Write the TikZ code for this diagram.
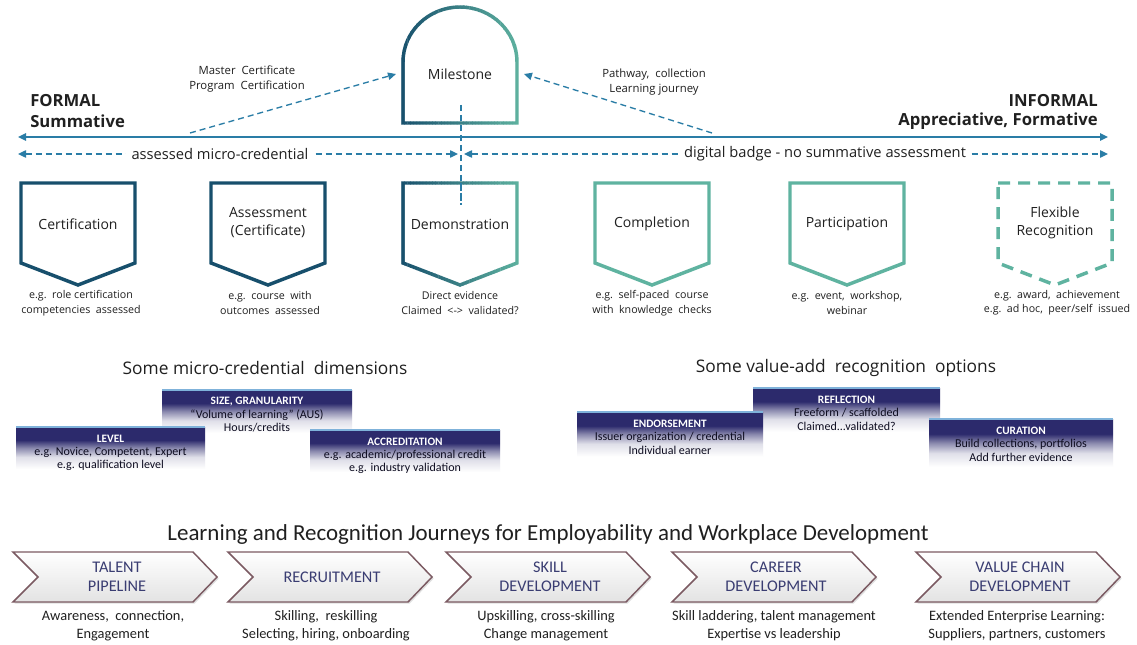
\documentclass[tikz,border=0pt]{standalone}
\usepackage{fontspec}
\setmainfont{Open Sans}
\newfontfamily\calib{Carlito}
\usetikzlibrary{arrows.meta,shadows}
\definecolor{dteal}{HTML}{174F6C}
\definecolor{lteal}{HTML}{5FB3A0}
\definecolor{axisblue}{HTML}{2A7DA6}
\definecolor{navy}{HTML}{2C2A6C}
\definecolor{chevb}{HTML}{7B5A62}
\definecolor{chevt}{HTML}{3A3D72}
\definecolor{txt}{HTML}{202020}
\definecolor{edgeblue}{HTML}{7FB2DA}
\pgfdeclareverticalshading{navyfade}{100bp}{color(0bp)=(white); color(33bp)=(white); color(45bp)=(navy!15); color(54bp)=(navy!55); color(62bp)=(navy); color(100bp)=(navy)}
% gradient stroke: #1 xmin, #2 xmax, #3 path
\newcommand\gradstroke[3]{%
  \foreach \i in {0,...,39}{%
    \pgfmathsetmacro\xa{#1+(#2-#1)*\i/40}%
    \pgfmathsetmacro\xb{#1+(#2-#1)*(\i+1)/40+0.4}%
    \pgfmathtruncatemacro\pc{100*\i/39}%
    \begin{scope}
      \clip (\xa,-5) rectangle (\xb,700);
      \draw[line width=2.6pt, draw=lteal!\pc!dteal, line join=miter] #3;
    \end{scope}
  }}
\newcommand\badgeshape[2]{\draw[#1] ({#2-57},183) -- ({#2+57},183) -- ({#2+57},263) -- (#2,285) -- ({#2-57},263) -- cycle;}
\newcommand\chevron[2]{% #1 left x, #2 name
  \draw[chev] (#1,552) -- ({#1+180},552) -- ({#1+204},577) -- ({#1+180},602) -- (#1,602) -- ({#1+25},577) -- cycle;
  \coordinate (#2) at ({#1+104},577);}
\newcommand\dimbox[8]{% name, x1, y1, x2, y2, title, line1, line2
  \shade[shading=navyfade] (#2,#3) rectangle (#4,#5);
  \draw[edgeblue, line width=0.8pt] (#2,#3) -- (#4,#3);
  \node[btitle] (#1) at ({(#2+#4)/2},{#3+12}) {#6};
  \node[bline] (#1a) at ({(#2+#4)/2},{#3+25}) {#7};
  \node[bline] (#1b) at ({(#2+#4)/2},{#3+38}) {#8};}
\begin{document}
\begin{tikzpicture}[x=0.75pt,y=-0.75pt,
  lbl/.style={font=\fontsize{10.5}{13.5}\selectfont, text=txt, align=center, inner sep=1pt},
  sub/.style={font=\fontsize{8}{10.8}\selectfont, text=txt, align=center, inner sep=1pt},
  dsub/.style={font=\fontsize{8.5}{10.8}\selectfont, text=txt, align=center, inner sep=1pt},
  side/.style={font=\bfseries\fontsize{12.5}{15.5}\selectfont, text=txt, inner sep=0pt},
  head/.style={font=\fontsize{13}{15}\selectfont, text=txt},
  axisline/.style={axisblue, line width=1.2pt, {Triangle[length=6pt,width=5.5pt]}-{Triangle[length=6pt,width=5.5pt]}},
  dashline/.style={axisblue, line width=1pt, dash pattern=on 4.5pt off 3pt},
  dlabel/.style={font=\fontsize{11}{13}\selectfont, text=txt, fill=white, inner xsep=4pt, inner ysep=1pt},
  badge/.style={line width=2.6pt, line join=miter},
  btitle/.style={font=\calib\bfseries\fontsize{8.5}{10}\selectfont, text=white, inner sep=0pt},
  bline/.style={font=\calib\fontsize{9}{10.5}\selectfont, text=navy!30!black, inner sep=0pt},
  chev/.style={draw=chevb, line width=1.1pt, top color=white, bottom color=gray!22, line join=miter,
    drop shadow={shadow xshift=1.2pt, shadow yshift=-1.2pt, opacity=0.25}},
  chlabel/.style={font=\calib\fontsize{12.2}{14}\selectfont, text=chevt, align=center},
  chsub/.style={font=\calib\fontsize{10.8}{13.5}\selectfont, text=txt, align=center}
]
\useasboundingbox (0,0) rectangle (1137,645);
\fill[white] (0,0) rectangle (1137,645);

% ---- Milestone
\gradstroke{398}{522}{(403,123) -- (403,62) arc[start angle=180,end angle=360,x radius=57,y radius=55] -- (517,123) -- cycle}
\node[lbl] (ms) at (460,74) {Milestone};
\coordinate (msL) at (396,74);
\coordinate (msR) at (524,74);

% ---- axis lines
\coordinate (axL) at (18,137);
\coordinate (axR) at (1108,137);
\draw[axisline] (axL) -- (axR);
\coordinate (dL) at (18,154);
\coordinate (dM1) at (458,154);
\coordinate (dM2) at (464,154);
\coordinate (dR) at (1108,154);
\draw[dashline, {Triangle[length=6pt,width=5.5pt]}-{Triangle[length=6pt,width=5.5pt]}] (dL) -- (dM1);
\draw[dashline, {Triangle[length=6pt,width=5.5pt]}-{Triangle[length=6pt,width=5.5pt]}] (dM2) -- (dR);
\node[dlabel] (amc) at (220,154) {assessed micro-credential};
\node[dlabel] (dbn) at (825,154) {digital badge - no summative assessment};
\coordinate (vT) at (461,105);
\coordinate (vB) at (461,205);
\draw[dashline] (vT) -- (vB);

% ---- diagonal arrows
\coordinate (mcS) at (190,133);
\coordinate (pwS) at (712,133);
\draw[dashline, -{Triangle[length=6pt,width=5.5pt]}] (mcS) -- (msL);
\draw[dashline, -{Triangle[length=6pt,width=5.5pt]}] (pwS) -- (msR);
\node[dsub] (mc) at (247,79) {Master\ \ Certificate\\Program\ \ Certification};
\node[dsub] (pw) at (654,82) {Pathway,\ \ collection\\Learning journey};

% ---- side labels
\node[side, anchor=west] (formal) at (30,101) {FORMAL};
\node[side, anchor=west] (summ) at (30,121) {Summative};
\node[side, anchor=east] (informal) at (1098,101) {INFORMAL};
\node[side, anchor=east] (appr) at (1098,121) {Appreciative, Formative};

% ---- badges
\badgeshape{badge, dteal}{78}
\badgeshape{badge, dteal}{268}
\gradstroke{398}{522}{(403,183) -- (517,183) -- (517,263) -- (460,285) -- (403,263) -- cycle}
\draw[dashline] (461,183) -- (vB);
\badgeshape{badge, lteal}{652}
\badgeshape{badge, lteal}{847}
\badgeshape{badge, lteal, dash pattern=on 9pt off 6pt}{1055}

\node[lbl] (cert) at (78,224) {Certification};
\node[lbl] (assess) at (268,223) {Assessment\\(Certificate)};
\node[lbl] (demo) at (460,224) {Demonstration};
\node[lbl] (compl) at (652,224) {Completion};
\node[lbl] (partic) at (847,224) {Participation};
\node[lbl] (flex) at (1055,223) {Flexible\\Recognition};

\node[sub] (certs) at (81,303) {e.g.\ \ role certification\\competencies\ \ assessed};
\node[sub] (assesss) at (270,303) {e.g.\ \ course\ \ with\\outcomes\ \ assessed};
\node[sub] (demos) at (460,303) {Direct evidence\\Claimed\ \ <->\ \ validated?};
\node[sub] (compls) at (652,303) {e.g.\ \ self-paced\ \ course\\with\ \ knowledge\ \ checks};
\node[sub] (partics) at (847,303) {e.g.\ \ event,\ \ workshop,\\webinar};
\node[sub] (flexs) at (1057,303) {e.g.\ \ award,\ \ achievement\\e.g.\ \ ad hoc,\ \ peer/self\ \ issued};

% ---- dimension headings
\node[head] (hdim) at (265,368) {Some micro-credential\ \ dimensions};
\node[head] (hval) at (846,368) {Some value-add\ \ recognition\ \ options};

\dimbox{size}{162}{390}{352}{441}{SIZE, GRANULARITY}{“Volume of learning” (AUS)}{Hours/credits}
\dimbox{level}{16}{427}{205}{477}{LEVEL}{e.g. Novice, Competent, Expert}{e.g. qualification level}
\dimbox{accr}{310}{430}{500}{480}{ACCREDITATION}{e.g. academic/professional credit}{e.g. industry validation}
\dimbox{refl}{753}{388}{940}{440}{REFLECTION}{Freeform / scaffolded}{Claimed...validated?}
\dimbox{endo}{577}{412}{763}{465}{ENDORSEMENT}{Issuer organization / credential}{Individual earner}
\dimbox{cur}{929}{419}{1113}{476}{CURATION}{Build collections, portfolios}{Add further evidence}

% ---- journeys
\node[font=\calib\fontsize{17.2}{20}\selectfont, text=txt] (jt) at (548,535) {Learning and Recognition Journeys for Employability and Workplace Development};
\chevron{13}{c1}
\chevron{228}{c2}
\chevron{446}{c3}
\chevron{672}{c4}
\chevron{916}{c5}
\node[chlabel] (c1l) at (c1) {TALENT\\PIPELINE};
\node[chlabel] (c2l) at (c2) {RECRUITMENT};
\node[chlabel] (c3l) at (c3) {SKILL\\DEVELOPMENT};
\node[chlabel] (c4l) at (c4) {CAREER\\DEVELOPMENT};
\node[chlabel] (c5l) at (c5) {VALUE CHAIN\\DEVELOPMENT};
\node[chsub] (c1s) at (113,626) {Awareness,\ \ connection,\\Engagement};
\node[chsub] (c2s) at (326,626) {Skilling,\ \ reskilling\\Selecting,\ hiring,\ onboarding};
\node[chsub] (c3s) at (546,626) {Upskilling, cross-skilling\\Change management};
\node[chsub] (c4s) at (774,626) {Skill laddering, talent management\\Expertise vs leadership};
\node[chsub] (c5s) at (1017,626) {Extended Enterprise Learning:\\Suppliers, partners, customers};
\end{tikzpicture}
\end{document}
